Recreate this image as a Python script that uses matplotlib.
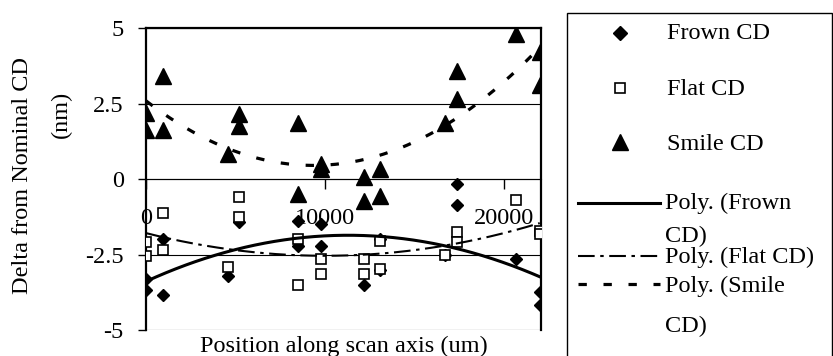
import numpy as np
import matplotlib.pyplot as plt
from matplotlib.lines import Line2D
from matplotlib.patches import Rectangle

# scan positions (um) and CD offsets (nm) for the three focus conditions
frown_x = [0, 0, 950, 950, 4600, 5200, 8470, 8470, 9800, 9800, 12200,
           13100, 13100, 16700, 17350, 17350, 20700, 22000, 22000]
frown_y = [-3.31, -3.66, -1.99, -3.84, -3.22, -1.43, -1.38, -2.21, -1.49,
           -2.23, -3.51, -2.0, -3.0, -2.5, -0.17, -0.86, -2.65, -3.75, -4.17]

flat_x = [0, 0, 950, 950, 4600, 5200, 5200, 8470, 8470, 9800, 9800, 12200,
          12200, 13100, 13100, 16700, 17350, 17350, 20700, 22000, 22000]
flat_y = [-2.1, -2.56, -1.13, -2.35, -2.92, -0.61, -1.27, -1.99, -3.51,
          -2.65, -3.15, -2.65, -3.15, -2.04, -2.98, -2.52, -1.77, -2.1,
          -0.68, -1.71, -1.82]

smile_x = [0, 0, 950, 950, 4600, 5200, 5200, 8470, 8470, 9800, 9800, 12200,
           12200, 13100, 13100, 16700, 17350, 17350, 20700, 22000, 22000]
smile_y = [2.2, 1.63, 3.42, 1.63, 0.83, 2.15, 1.76, 1.85, -0.5, 0.5, 0.33,
           0.05, -0.72, 0.33, -0.55, 1.85, 3.59, 2.65, 4.8, 4.2, 3.11]

x_ticks = [0, 10000, 20000]
y_ticks = [-5, -2.5, 0, 2.5, 5]
y_tick_labels = ['-5', '-2.5', '0', '2.5', '5']

legend_labels = ['Frown CD', 'Flat CD', 'Smile CD',
                 'Poly. (Frown\nCD)', 'Poly. (Flat CD)', 'Poly. (Smile\nCD)']

W, H = 833, 356
FS = 17.5


def fx(x):
    return x / W


def fy(y):
    return 1 - y / H


def poly_trend(ax, x, y, **style):
    coef = np.polyfit(x, y, 2)
    xs = np.linspace(min(x), max(x), 200)
    return ax.plot(xs, np.polyval(coef, xs), color='black', **style)[0]


def main():
    plt.rcParams['font.family'] = ['Liberation Serif', 'DejaVu Serif']
    plt.rcParams['lines.scale_dashes'] = False

    fig = plt.figure(figsize=(W / 100, H / 100), dpi=100)
    ax = fig.add_axes([fx(146), fy(330), (541 - 146) / W, (330 - 28) / H])

    ax.plot(frown_x, frown_y, linestyle='none', marker='D', ms=6.3,
            color='black', zorder=3)
    ax.plot(flat_x, flat_y, linestyle='none', marker='s', ms=7,
            mfc='white', mec='black', mew=1.2, zorder=4)
    ax.plot(smile_x, smile_y, linestyle='none', marker='^', ms=11,
            color='black', zorder=5)

    poly_trend(ax, frown_x, frown_y, lw=2.2, zorder=6)
    poly_trend(ax, flat_x, flat_y, lw=1.5, dashes=(12, 4, 2.5, 4), zorder=6)
    poly_trend(ax, smile_x, smile_y, lw=2.3, dashes=(6, 12), zorder=6)

    ax.set_xlim(0, 22070)
    ax.set_ylim(-5, 5)
    ax.set_xticks(x_ticks)
    ax.set_xticklabels([str(v) for v in x_ticks])
    ax.set_yticks(y_ticks)
    ax.set_yticklabels(y_tick_labels)
    ax.tick_params(axis='y', direction='out', length=6, width=1, pad=10,
                   labelsize=FS)
    ax.tick_params(axis='x', direction='out', length=7, width=1, pad=14,
                   labelsize=FS)

    ax.grid(axis='y', color='black', lw=0.8)
    ax.set_axisbelow(True)
    ax.spines['bottom'].set_position(('data', 0))
    ax.spines['bottom'].set_linewidth(0.8)
    for side in ['left', 'top', 'right']:
        ax.spines[side].set_linewidth(1.6)

    ax.set_xlabel('Position along scan axis (um)', fontsize=FS)
    ax.xaxis.set_label_coords(0.5, -0.018)
    ax.set_ylabel('Delta from Nominal CD', fontsize=FS)
    ax.yaxis.set_label_coords(fx(33), fy(176), transform=fig.transFigure)
    fig.text(fx(61), fy(114), '(nm)', rotation=90, ha='center', va='center',
             fontsize=FS)

    # legend box on the right
    fig.add_artist(Rectangle((fx(567), -0.05), fx(831.5) - fx(567),
                             fy(13) + 0.05, transform=fig.transFigure,
                             fill=False, lw=1, ec='black'))
    fig.add_artist(Line2D([fx(620)], [fy(33)], marker='D', ms=7,
                          color='black', transform=fig.transFigure))
    fig.add_artist(Line2D([fx(620)], [fy(88)], marker='s', ms=7,
                          mfc='white', mec='black', mew=1.2,
                          transform=fig.transFigure))
    fig.add_artist(Line2D([fx(620)], [fy(142)], marker='^', ms=11,
                          color='black', transform=fig.transFigure))
    fig.add_artist(Line2D([fx(578), fx(660)], [fy(203), fy(203)], lw=2.2,
                          color='black', transform=fig.transFigure))
    fig.add_artist(Line2D([fx(578), fx(660)], [fy(256), fy(256)], lw=1.5,
                          dashes=(12, 4, 2.5, 4), color='black',
                          transform=fig.transFigure))
    fig.add_artist(Line2D([fx(578), fx(660)], [fy(284), fy(284)], lw=2.3,
                          dashes=(6, 12), color='black',
                          transform=fig.transFigure))

    baselines = [(667, [39]), (667, [95]), (667, [150]),
                 (665, [209, 242]), (665, [263]), (665, [292, 332])]
    for label, (x, ys) in zip(legend_labels, baselines):
        for line, y in zip(label.split('\n'), ys):
            fig.text(fx(x), fy(y), line, ha='left', va='baseline',
                     fontsize=FS)

    plt.savefig('out.png', dpi=100)


if __name__ == '__main__':
    main()
